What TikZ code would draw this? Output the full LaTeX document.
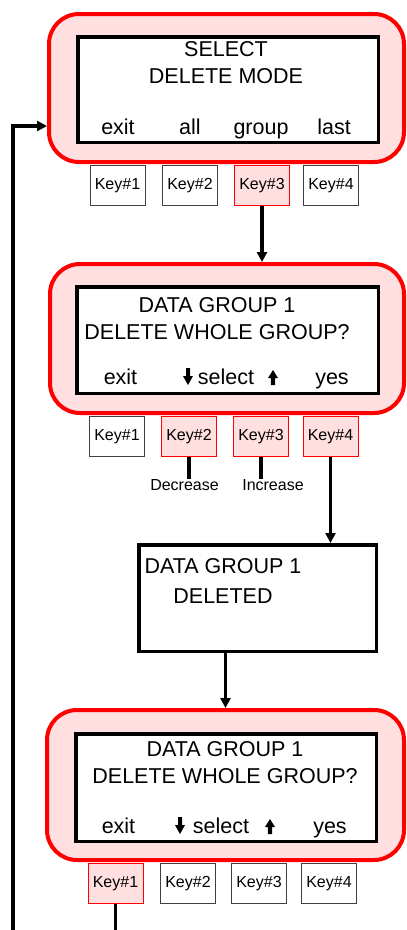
\documentclass[tikz,border=0pt]{standalone}
\usepackage{fontspec}
\setmainfont{Liberation Sans}
\usetikzlibrary{positioning, arrows.meta, calc}

\definecolor{lcdpink}{HTML}{FFDFDF}
\newcommand\lcdfont{\fontsize{21.5}{26.5}\selectfont}
\newcommand\keyfont{\fontsize{16}{19}\selectfont}
% small arrow glyphs for the select soft key
\newcommand\dnarr{\tikz[baseline=0pt, x=1pt, y=1pt] \fill (-2,16) -- (2,16) -- (2,8) -- (5,8) -- (0,-1) -- (-5,8) -- (-2,8) -- cycle;}
\newcommand\uparr{\tikz[baseline=0pt, x=1pt, y=1pt] \fill (-2.2,-1) -- (2.2,-1) -- (2.2,6) -- (5,6) -- (0,14) -- (-5,6) -- (-2.2,6) -- cycle;}

\begin{document}
\begin{tikzpicture}[x=1pt, y=-1pt, >={Triangle[length=10pt, width=10pt]},
      frame/.style={draw=red, line width=4pt, fill=lcdpink, rounded corners=30pt},
      lcd/.style={draw, line width=3.5pt, fill=white},
      key/.style={draw=black!75, line width=0.8pt, fill=white, minimum width=55pt,
        minimum height=40pt, inner sep=0pt, font=\keyfont, anchor=north},
      keyon/.style={key, draw=red, fill=lcdpink},
      msg/.style={align=center, font=\lcdfont, inner sep=0pt, anchor=base},
      soft/.style={font=\lcdfont, inner sep=0pt, anchor=base},
      note/.style={font=\keyfont, inner sep=0pt, anchor=base},
      link/.style={line width=3.5pt}]
    \useasboundingbox (0,0) rectangle (407,930);
    \clip (0,0) rectangle (407,930);

    % screen 1
    \node[frame, minimum width=355pt, minimum height=148pt] (f1) at (226.5,88) {};
    \node[lcd, minimum width=300.5pt, minimum height=105.5pt] (lcd1) at (228,89.5) {};
    \node[msg] (m1) at (226,83) {SELECT\\DELETE MODE};
    \node[soft] (s1a) at (118,134) {exit};
    \node[soft] (s1b) at (190,134) {all};
    \node[soft] (s1c) at (261,134) {group};
    \node[soft] (s1d) at (334,134) {last};
    \node[key] (k1a) at (117.5,165) {Key\#1};
    \node[key] (k1b) at (190,165) {Key\#2};
    \node[keyon] (k1c) at (262,165) {Key\#3};
    \node[key] (k1d) at (331,165) {Key\#4};

    % screen 2
    \node[frame, minimum width=354pt, minimum height=149pt] (f2) at (227,338.5) {};
    \node[lcd, minimum width=301.5pt, minimum height=106.5pt] (lcd2) at (227.5,340) {};
    \node[msg] (m2) at (217,339.3) {DATA GROUP 1\\DELETE WHOLE GROUP?};
    \node[soft] (s2a) at (120.5,384) {exit};
    \node[soft] (s2dn) at (188,384) {\dnarr};
    \node[soft] (s2b) at (226,384) {select};
    \node[soft] (s2up) at (273,384) {\uparr};
    \node[soft] (s2c) at (332,384) {yes};
    \node[key] (k2a) at (117,416) {Key\#1};
    \node[keyon] (k2b) at (189,416) {Key\#2};
    \node[keyon] (k2c) at (261,416) {Key\#3};
    \node[keyon] (k2d) at (330.5,416) {Key\#4};
    \node[note] (dec) at (184.5,490) {Decrease};
    \node[note] (inc) at (273,490) {Increase};

    % screen 3
    \node[lcd, minimum width=237.5pt, minimum height=106.5pt] (done) at (257.5,598) {};
    \node[msg] (m3) at (223,603) {DATA GROUP 1\\[3.5pt]DELETED};

    % screen 4
    \node[frame, minimum width=357pt, minimum height=150pt] (f4) at (225.5,785) {};
    \node[lcd, minimum width=300.5pt, minimum height=107.5pt] (lcd4) at (226,787.5) {};
    \node[msg] (m4) at (225,783.3) {DATA GROUP 1\\DELETE WHOLE GROUP?};
    \node[soft] (s4a) at (118.5,833) {exit};
    \node[soft] (s4dn) at (180,833) {\dnarr};
    \node[soft] (s4b) at (221,833) {select};
    \node[soft] (s4up) at (270,833) {\uparr};
    \node[soft] (s4c) at (330,833) {yes};
    \node[keyon] (k4a) at (115.5,863) {Key\#1};
    \node[key] (k4b) at (188,863) {Key\#2};
    \node[key] (k4c) at (259,863) {Key\#3};
    \node[key] (k4d) at (329,863) {Key\#4};

    % connectors
    \draw[link, ->] (k1c) -- (k1c |- f2.north);
    \draw[link] (k2b) -- (k2b |- dec.north);
    \draw[link] (k2c) -- (k2c |- inc.north);
    \draw[link, ->] (k2d) -- (k2d |- done.north);
    \draw[link, ->] (f4.north |- done.south) -- (f4.north);
    \coordinate (back) at (13,950);
    \coordinate (f1in) at ($(f1.west)+(0,38)$);
    \draw[link, ->] (k4a) |- (back) |- (f1in);
  \end{tikzpicture}
\end{document}
